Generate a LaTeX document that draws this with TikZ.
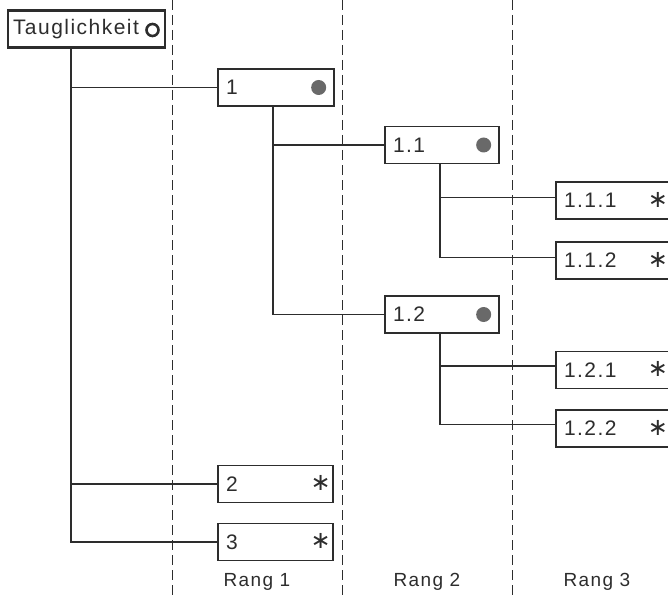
\documentclass[tikz,border=0pt]{standalone}
\usepackage{fontspec}
\setmainfont[LetterSpace=7]{Liberation Sans}
\newfontfamily\symfont{DejaVu Sans}
\usepackage{tikz}
\usetikzlibrary{positioning,calc}
\definecolor{inkc}{RGB}{45,45,45}
\definecolor{dotc}{RGB}{105,105,105}
\tikzset{
  tbox/.style   = {draw=inkc, line width=1.3pt, rectangle, minimum height=37pt,
                   inner xsep=8pt, inner ysep=0pt, align=left, font=\fontsize{21}{21}\selectfont,
                   text=inkc},
  rootbox/.style= {tbox, line width=2.4pt, inner xsep=5pt},
  link/.style   = {draw=inkc, line width=1.3pt},
  rank/.style   = {draw=inkc, line width=0.9pt, dash pattern=on 10pt off 5pt},
  rlbl/.style   = {font=\fontsize{19}{19}\selectfont, text=inkc},
  star/.style   = {font=\symfont\fontsize{24}{24}\selectfont, text=inkc, inner sep=0pt},
}

\begin{document}
\begin{tikzpicture}[x=1pt, y=-1pt]
\useasboundingbox (0,0) rectangle (668,596);
\fill[white] (0,0) rectangle (668,596);

% rank separators
\foreach \xr in {172,342,512}
  \draw[rank] (\xr,0) -- (\xr,596);

\node[rootbox, text width=147pt] (root) at (86.5,29) {Tauglichkeit};
\draw[inkc, line width=2.6pt] (152.5,30) circle (6pt);

% Rang 1
\node[tbox, text width=100pt] (n1) at (276,87.5) {1};
\node[tbox, text width=99pt]  (n2) at (275.5,484) {2};
\node[tbox, text width=99pt]  (n3) at (275.5,542) {3};

% Rang 2
\node[tbox, text width=98pt] (n11) at (442,145) {1.1};
\node[tbox, text width=98pt] (n12) at (442,314.5) {1.2};

% Rang 3
\node[tbox, text width=124pt] (n111) at (626,200.5) {1.1.1};
\node[tbox, text width=124pt] (n112) at (626,260.5) {1.1.2};
\node[tbox, text width=124pt] (n121) at (626,370) {1.2.1};
\node[tbox, text width=124pt] (n122) at (626,428.5) {1.2.2};

% markers
\foreach \n in {n1,n11,n12}
  \fill[dotc] ([xshift=-16pt]\n.east) circle (7.5pt);
\foreach \n in {n2,n3}
  \node[star] at ([xshift=-13pt,yshift=1pt]\n.east) {∗};
\foreach \n in {n111,n112,n121,n122}
  \node[star] at ([yshift=1pt]658,0 |- \n.center) {∗};

% tree links
\coordinate (t0) at ([xshift=-15.5pt]root.south);
\coordinate (t1) at ([xshift=-3pt]n1.south);
\coordinate (t11) at ([xshift=-2pt]n11.south);
\coordinate (t12) at ([xshift=-2pt]n12.south);
\draw[link] (t0) |- (n1.west);
\draw[link] (t0) |- (n2.west);
\draw[link] (t0) |- (n3.west);
\draw[link] (t1) |- (n11.west);
\draw[link] (t1) |- (n12.west);
\draw[link] (t11) |- ([yshift=3pt]n111.west);
\draw[link] (t11) |- ([yshift=3pt]n112.west);
\draw[link] (t12) |- ([yshift=4pt]n121.west);
\draw[link] (t12) |- ([yshift=4pt]n122.west);

% rank labels
\node[rlbl] (r1) at (257,582) {Rang 1};
\node[rlbl] (r2) at (427,582) {Rang 2};
\node[rlbl] (r3) at (597,582) {Rang 3};
\end{tikzpicture}
\end{document}
